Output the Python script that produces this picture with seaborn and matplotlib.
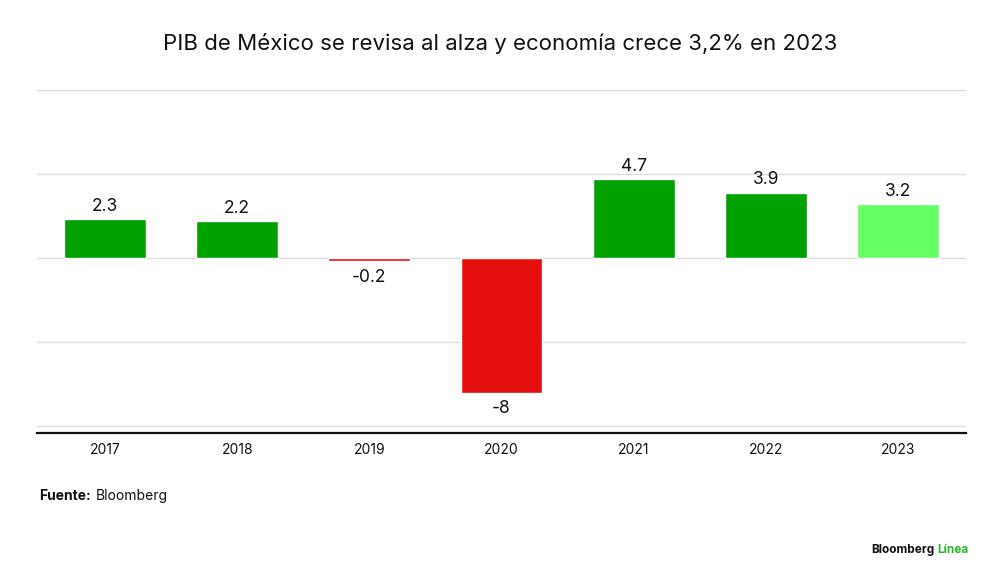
import matplotlib
matplotlib.use("Agg")
import matplotlib.pyplot as plt
import seaborn as sns
import pandas as pd

# data
years = ["2017", "2018", "2019", "2020", "2021", "2022", "2023"]
gdp_growth = [2.3, 2.2, -0.2, -8, 4.7, 3.9, 3.2]
value_labels = ["2.3", "2.2", "-0.2", "-8", "4.7", "3.9", "3.2"]
bar_colors = ["#02A102", "#02A102", "#E50F0F", "#E50F0F", "#02A102", "#02A102", "#66FF66"]

df = pd.DataFrame({"year": years, "gdp": gdp_growth})

sns.set_theme(style="white")
plt.rcParams["font.family"] = ["Inter", "DejaVu Sans"]

fig = plt.figure(figsize=(10, 5.8), dpi=100)
ax = fig.add_axes([0.037, 0.2534, 0.929, 0.5916])

sns.barplot(data=df, x="year", y="gdp", hue="year", palette=bar_colors,
            width=0.62, legend=False, ax=ax, saturation=1)

ax.set_ylim(-10.4, 10)
ax.set_xlim(-0.515, len(years) - 0.485)
ax.set_yticks([-10, -5, 0, 5, 10])
ax.yaxis.grid(True, color="#DDDDDD", linewidth=1)
ax.set_axisbelow(True)
ax.tick_params(axis="y", left=False, labelleft=False)
ax.tick_params(axis="x", bottom=False, labelsize=10, pad=1, colors="#111111")
ax.set_xlabel("")
ax.set_ylabel("")
for side in ["top", "left", "right"]:
    ax.spines[side].set_visible(False)
ax.spines["bottom"].set_color("#111111")
ax.spines["bottom"].set_linewidth(1.6)

for i, (v, lab) in enumerate(zip(gdp_growth, value_labels)):
    if v >= 0:
        ax.text(i, v + 0.25, lab, ha="center", va="bottom", fontsize=12.5, color="#111111")
    else:
        ax.text(i, v - 0.45, lab, ha="center", va="top", fontsize=12.5, color="#111111")

fig.text(0.5, 0.925, "PIB de México se revisa al alza y economía crece 3,2% en 2023",
         ha="center", va="center", fontsize=16, color="#111111")

fig.text(0.039, 0.145, "Fuente:", ha="left", va="center", fontsize=10,
         fontweight="bold", color="#111111")
fig.text(0.096, 0.145, "Bloomberg", ha="left", va="center", fontsize=10, color="#111111")

fig.text(0.934, 0.051, "Bloomberg", ha="right", va="center", fontsize=8.5,
         fontweight="bold", color="#111111")
fig.text(0.937, 0.051, "Línea", ha="left", va="center", fontsize=8.5,
         fontweight="bold", color="#2DB52D")

fig.savefig("out.png", dpi=100, facecolor="white")
